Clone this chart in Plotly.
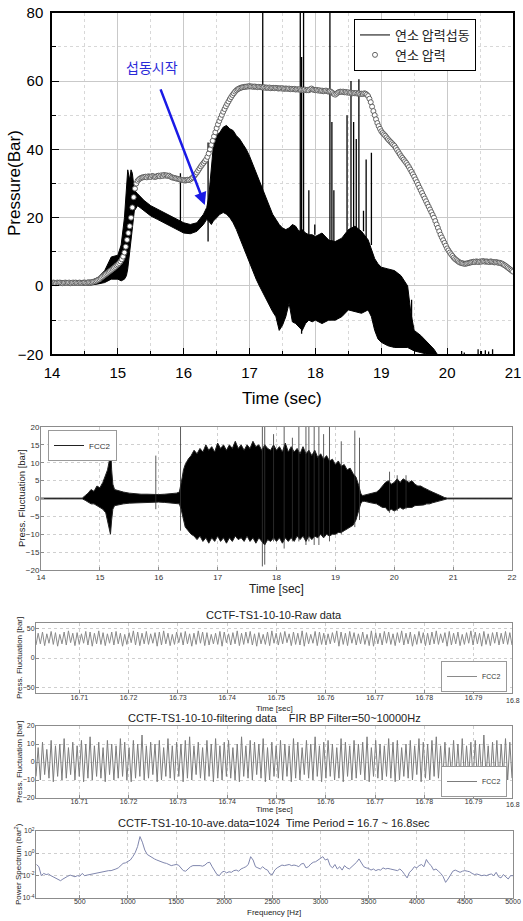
import plotly.graph_objects as go

W, H = 523, 921

def fx(p):
    return p / W

def fy(p):
    return 1 - p / H

# ---------------- Panel 1: combustion pressure ----------------
p1_env_time = [14.0, 14.3, 14.6, 14.7, 14.8, 14.9, 15.0, 15.05, 15.1, 15.13,
               15.15, 15.18, 15.2, 15.22, 15.25, 15.3, 15.4, 15.5, 15.6, 15.7,
               15.8, 15.9, 16.0, 16.1, 16.2, 16.3, 16.35, 16.38, 16.42, 16.45,
               16.5, 16.55, 16.6, 16.65, 16.7, 16.75, 16.8, 16.85, 16.9, 16.95,
               17.0, 17.05, 17.1, 17.15, 17.2, 17.25, 17.3, 17.35, 17.4, 17.45,
               17.5, 17.55, 17.6, 17.65, 17.7, 17.75, 17.8, 17.85, 17.9, 17.95,
               18.0, 18.1, 18.2, 18.3, 18.4, 18.5, 18.6, 18.7, 18.8, 18.85,
               18.9, 18.95, 19.0, 19.1, 19.2, 19.3, 19.4, 19.45, 19.5, 19.6,
               19.7, 19.8, 19.85]
p1_env_upper = [1.5, 1.4, 1.6, 2.5, 4.5, 8.5, 9.0, 12.0, 20.0, 28.0,
                34.0, 31.0, 34.0, 33.0, 28.0, 27.0, 25.0, 23.5, 22.5, 21.5,
                20.5, 19.5, 18.5, 18.0, 18.5, 21.0, 23.0, 26.0, 36.0, 41.0,
                44.0, 45.0, 46.5, 47.0, 46.0, 45.5, 44.0, 43.0, 41.5, 40.0,
                38.0, 35.5, 33.0, 30.5, 28.0, 25.5, 23.0, 21.0, 19.5, 18.0,
                17.0, 16.5, 17.0, 18.0, 17.5, 16.0, 16.5, 15.5, 15.0, 15.0,
                14.5, 15.5, 13.5, 13.0, 14.0, 16.5, 17.5, 16.0, 13.5, 11.0,
                8.0, 6.5, 5.5, 5.0, 4.5, 3.0, 0.0, -8.0, -13.0, -14.5,
                -16.5, -18.5, -20.0]
p1_env_lower = [0.3, 0.3, 0.3, 0.6, 1.0, 2.0, 2.0, 1.5, 2.0, 3.0,
                5.0, 10.0, 14.0, 18.0, 22.0, 23.5, 22.0, 20.5, 19.5, 18.5,
                17.5, 16.5, 15.5, 15.3, 16.0, 18.0, 19.5, 19.0, 18.0, 19.0,
                20.0, 21.0, 21.5, 21.0, 20.0, 18.5, 16.5, 14.0, 11.5, 9.0,
                6.5, 4.0, 2.0, 0.0, -2.0, -4.0, -6.0, -7.5, -9.0, -13.0,
                -11.5, -9.0, -5.0, -10.5, -11.0, -12.0, -13.0, -11.0, -10.0, -10.5,
                -10.0, -11.0, -10.0, -10.0, -9.0, -7.0, -7.5, -8.0, -7.0, -9.0,
                -13.0, -15.5, -16.5, -17.5, -18.0, -18.0, -18.0, -18.5, -19.0, -19.5,
                -20.0, -20.0, -20.0]
p1_spike_time = [15.95, 16.37, 17.20, 17.77, 17.79, 17.82, 17.90, 17.99, 18.22, 18.25,
                 18.28, 18.48, 18.54, 18.58, 18.62, 18.66, 18.73, 18.77, 18.85, 19.46,
                 20.22, 20.26, 20.47, 20.52, 20.58, 20.63, 20.69]
p1_spike_base = [17, 13, 28, 16, -14, 16, 15, 15, 13.5, 13,
                 13, 16, 17, 17, 17, 16.5, 16, 14, 12, -18,
                 -20, -20, -20, -20, -20, -20, -20]
p1_spike_top = [33, 42, 80, 80, 67, 80, 28, 18, 80, 48,
                28, 50, 60, 48, 43, 60.5, 22, 37, 39, -4,
                -19, -19.5, -18.5, -19, -18.8, -19.2, -18.5]
p1_mean_start = 14.0
p1_mean_step = 0.02
p1_mean_pressure = [
    0.9, 1.0, 0.9, 0.8, 1.0, 0.9, 1.0, 0.9, 0.8, 0.9,
    1.0, 0.9, 0.9, 1.0, 0.8, 0.9, 1.0, 0.9, 1.0, 0.9,
    0.9, 1.0, 0.9, 0.9, 1.0, 1.0, 0.9, 1.0, 1.1, 1.0,
    1.1, 1.2, 1.3, 1.4, 1.6, 1.8, 2.0, 2.3, 2.6, 2.9,
    3.2, 3.5, 3.8, 4.1, 4.4, 4.7, 5.0, 5.3, 5.6, 6.0,
    6.3, 6.7, 7.2, 7.8, 8.6, 9.8, 11.5, 13.5, 15.5, 17.5,
    20.0, 23.0, 26.0, 28.5, 30.0, 30.8, 31.2, 31.5, 31.7, 31.8,
    31.9, 32.0, 31.8, 32.1, 32.0, 31.9, 32.2, 32.1, 31.9, 32.0,
    32.2, 32.3, 32.1, 32.4, 32.2, 32.5, 32.3, 32.4, 32.2, 32.3,
    32.0, 31.8, 31.7, 31.6, 31.5, 31.4, 31.3, 31.2, 31.1, 31.0,
    31.0, 30.9, 31.0, 31.1, 31.0, 31.2, 31.5, 31.8, 32.2, 32.7,
    33.2, 33.8, 34.4, 35.0, 35.5, 36.0, 36.5, 37.0, 37.8, 38.8,
    40.0, 41.3, 42.5, 43.8, 45.0, 46.2, 47.3, 48.3, 49.2, 50.1,
    51.0, 51.8, 52.6, 53.3, 54.0, 54.7, 55.3, 55.9, 56.4, 56.9,
    57.3, 57.6, 57.8, 58.0, 58.1, 58.2, 58.3, 58.3, 58.4, 58.4,
    58.5, 58.4, 58.4, 58.3, 58.4, 58.3, 58.2, 58.3, 58.2, 58.2,
    58.1, 58.2, 58.0, 58.1, 58.0, 58.1, 57.9, 58.0, 58.0, 57.9,
    58.0, 57.9, 57.8, 57.9, 57.8, 57.9, 57.7, 57.8, 57.8, 57.7,
    57.8, 57.6, 57.7, 57.6, 57.7, 57.5, 57.6, 57.5, 57.6, 57.4,
    57.5, 57.4, 57.5, 57.3, 57.4, 57.3, 57.6, 57.8, 57.5, 57.4,
    57.3, 57.4, 57.2, 57.3, 57.1, 57.2, 57.0, 57.1, 57.2, 57.0,
    56.9, 57.0, 56.8, 56.5, 56.2, 56.0, 56.3, 56.6, 56.8, 56.9,
    56.8, 56.9, 56.7, 56.8, 56.6, 56.7, 56.5, 56.6, 56.4, 56.5,
    56.4, 56.5, 56.3, 56.4, 56.2, 56.3, 56.2, 56.4, 56.3, 56.0,
    55.6, 54.8, 53.8, 52.5, 51.2, 50.0, 48.8, 47.7, 46.8, 46.0,
    45.3, 44.8, 44.4, 44.0, 43.5, 43.0, 42.6, 42.2, 41.8, 41.4,
    41.0, 40.4, 39.8, 39.2, 38.6, 38.0, 37.5, 37.0, 36.5, 36.0,
    35.4, 34.8, 34.1, 33.4, 32.7, 32.0, 31.2, 30.4, 29.6, 28.8,
    28.0, 27.2, 26.4, 25.6, 24.8, 24.0, 23.2, 22.4, 21.6, 20.8,
    20.0, 19.0, 18.0, 17.0, 16.0, 15.0, 14.2, 13.4, 12.6, 11.8,
    11.0, 10.4, 9.8, 9.3, 8.8, 8.3, 7.9, 7.6, 7.3, 7.0,
    6.8, 6.7, 6.6, 6.5, 6.5, 6.6, 6.7, 6.8, 6.9, 7.0,
    7.1, 7.0, 7.2, 7.1, 7.0, 7.2, 7.1, 7.3, 7.2, 7.1,
    7.2, 7.1, 7.0, 7.2, 7.1, 7.0, 6.9, 7.0, 6.9, 6.8,
    6.8, 6.6, 6.5, 6.2, 6.0, 5.7, 5.4, 5.1, 4.8, 4.5,
    4.2]
p1_mean_time = [round(p1_mean_start + p1_mean_step * i, 3) for i in range(len(p1_mean_pressure))]

# ---------------- Panel 2: FCC2 fluctuation ----------------
p2_env_time = [14.0, 14.7, 14.75, 14.8, 14.85, 14.9, 14.95, 15.0, 15.05, 15.1,
               15.13, 15.16, 15.18, 15.2, 15.22, 15.25, 15.3, 15.4, 15.5, 15.6,
               15.7, 15.8, 15.9, 16.0, 16.1, 16.2, 16.3, 16.35, 16.38, 16.4,
               16.42, 16.45, 16.5, 16.55, 16.6, 16.65, 16.7, 16.75, 16.8, 16.85,
               16.9, 16.95, 17.0, 17.05, 17.1, 17.15, 17.2, 17.25, 17.3, 17.35,
               17.4, 17.45, 17.5, 17.55, 17.6, 17.65, 17.7, 17.75, 17.8, 17.85,
               17.9, 17.95, 18.0, 18.05, 18.1, 18.15, 18.2, 18.25, 18.3, 18.35,
               18.4, 18.45, 18.5, 18.55, 18.6, 18.65, 18.7, 18.75, 18.8, 18.85,
               18.9, 18.95, 19.0, 19.05, 19.1, 19.15, 19.2, 19.25, 19.3, 19.35,
               19.4, 19.43, 19.46, 19.5, 19.6, 19.7, 19.75, 19.8, 19.85, 19.9,
               19.95, 20.0, 20.05, 20.1, 20.15, 20.2, 20.25, 20.3, 20.35, 20.4,
               20.45, 20.5, 20.55, 20.6, 20.65, 20.7, 20.75, 20.8, 20.85, 20.9, 22.0]
p2_env_upper = [0.1, 0.1, 0.8, 1.5, 2.5, 2.0, 3.5, 3.0, 4.5, 6.5,
                8.0, 10.5, 16.0, 8.0, 4.0, 2.5, 2.2, 1.8, 1.5, 1.3,
                1.2, 1.2, 1.1, 1.1, 1.2, 1.3, 1.5, 1.8, 4.0, 6.0,
                8.0, 9.5, 11.0, 12.0, 13.5, 12.5, 14.0, 13.0, 15.0, 13.5,
                14.5, 13.0, 15.5, 14.0, 15.0, 13.5, 15.0, 14.0, 16.0, 14.0,
                15.0, 13.5, 15.0, 14.0, 16.0, 14.5, 15.0, 13.5, 15.0, 14.0,
                13.5, 15.0, 13.5, 14.5, 13.0, 15.5, 13.0, 14.5, 13.0, 14.0,
                12.5, 14.5, 12.5, 13.5, 12.0, 13.5, 11.5, 12.5, 11.0, 12.0,
                10.5, 11.0, 9.5, 10.5, 9.0, 9.5, 8.0, 8.5, 7.0, 6.0,
                3.5, 1.5, 0.8, 1.0, 1.5, 1.8, 2.5, 3.5, 4.5, 5.0,
                4.0, 4.5, 5.5, 4.5, 5.5, 5.0, 4.5, 5.0, 4.0, 3.5,
                3.5, 3.0, 2.5, 2.2, 1.8, 1.5, 1.1, 0.7, 0.3, 0.1, 0.1]
p2_env_lower = [-0.1, -0.1, -0.5, -1.0, -1.5, -1.5, -2.0, -2.5, -3.0, -4.0,
                -6.0, -8.0, -10.0, -6.0, -3.0, -2.0, -1.8, -1.5, -1.3, -1.2,
                -1.1, -1.0, -1.0, -1.0, -1.1, -1.2, -1.3, -1.5, -3.0, -4.5,
                -6.0, -8.0, -9.0, -10.0, -10.5, -11.5, -10.5, -12.0, -11.0, -12.5,
                -11.0, -12.0, -10.5, -12.0, -11.0, -12.5, -11.0, -12.0, -10.5, -11.5,
                -11.0, -12.0, -10.5, -12.0, -11.0, -12.5, -11.0, -12.0, -13.0, -11.5,
                -12.0, -11.0, -12.0, -11.0, -12.5, -11.0, -12.0, -11.0, -12.0, -10.5,
                -11.5, -10.5, -12.0, -10.5, -11.5, -10.5, -11.0, -10.0, -11.0, -10.0,
                -10.5, -10.0, -10.0, -9.5, -9.5, -9.0, -8.5, -8.0, -7.5, -6.0,
                -3.5, -1.5, -0.8, -0.8, -1.2, -1.5, -2.0, -2.5, -2.5, -3.5,
                -3.0, -3.5, -3.0, -2.5, -3.0, -2.5, -2.5, -2.5, -2.0, -2.0,
                -2.0, -1.8, -1.5, -1.5, -1.2, -1.0, -0.8, -0.5, -0.2, -0.1, -0.1]
p2_spike_time = [15.95, 16.37, 17.76, 17.80, 17.95, 18.13, 18.27, 18.38, 18.50, 18.55,
                 18.64, 18.72, 18.80, 18.90, 19.10, 19.33, 19.41, 19.92, 20.05, 20.20]
p2_spike_top = [12, 20, 20, 20, 18, 20, 17, 20, 20, 20,
                20, 20, 18, 20, 16, 19, 17, 7.5, 6.5, 6.5]
p2_spike_bottom = [-3, -9, -19, -18.5, -12, -14, -12, -12, -13, -12,
                   -13, -13, -11, -12, -10, -8, -6, -4, -3.5, -3]

# ---------------- Panel 3: raw data (16.7 - 16.8 s) ----------------
win_start, win_end = 16.7012, 16.7978
raw_peaks = [42, 44, 41, 45, 43, 40, 44, 46, 42, 43, 41, 45, 44, 42, 46, 43, 41, 44, 45, 42,
             40, 43, 46, 44, 42, 45, 41, 43, 44, 46, 42, 40, 44, 43, 45, 41, 42, 46, 44, 43,
             40, 42, 45, 44, 41, 43, 46, 42, 44, 45, 41, 43, 40, 44, 46, 42, 43, 45, 41, 44,
             42, 46, 43, 40, 45, 44, 42, 41, 43, 46, 44, 42, 45, 43, 41, 44, 40, 46, 43, 42,
             45, 44, 41, 43, 46, 42, 44, 40, 45, 43, 42, 44, 46, 41, 43, 45, 42, 44, 40, 43,
             46, 44, 42, 45, 41, 43, 44, 42, 45, 43]
raw_troughs = [22, 24, 21, 25, 23, 20, 24, 22, 26, 21, 23, 25, 22, 20, 24, 23, 21, 25, 22, 24,
               20, 23, 26, 22, 21, 24, 23, 25, 20, 22, 24, 21, 23, 26, 22, 24, 20, 23, 25, 21,
               22, 24, 23, 20, 26, 22, 24, 21, 23, 25, 22, 20, 24, 23, 21, 25, 22, 24, 26, 21,
               23, 22, 20, 24, 25, 21, 23, 22, 24, 26, 20, 23, 21, 25, 22, 24, 23, 21, 20, 24,
               22, 25, 23, 21, 26, 22, 24, 20, 23, 25, 21, 22, 24, 23, 26, 20, 22, 24, 21, 23,
               25, 22, 24, 20, 23, 21, 25, 22, 24, 23, 22]

# ---------------- Panel 4: filtered data ----------------
filt_peaks = [8, 11, 7, 12, 9, 10, 13, 8, 11, 9, 12, 10, 14, 9, 11, 8, 12, 10, 9, 13,
              11, 8, 12, 10, 15, 9, 11, 10, 12, 8, 13, 9, 11, 10, 12, 14, 9, 11, 8, 12,
              10, 13, 9, 11, 12, 8, 10, 14, 9, 12, 11, 10, 13, 8, 11, 9, 12, 10, 9, 13,
              11, 8, 12, 10, 14, 9, 11, 12, 10, 8, 13, 11, 9, 12, 10, 11, 14, 8, 12, 10,
              9, 13, 11, 12, 8, 10, 12, 9, 13, 11, 10, 12, 14, 9, 11, 8, 12, 10, 13, 9,
              11, 12, 10, 15, 9, 11, 12, 10, 13, 11]
filt_troughs = [-8, -10, -7, -9, -11, -8, -10, -9, -7, -10, -8, -11, -9, -10, -8, -9, -11, -7, -10, -9,
                -8, -10, -11, -9, -8, -10, -9, -7, -11, -10, -8, -9, -10, -8, -11, -9, -10, -7, -9, -10,
                -8, -11, -9, -10, -8, -9, -10, -11, -8, -9, -10, -7, -9, -11, -10, -8, -9, -10, -8, -11,
                -9, -10, -7, -9, -10, -8, -11, -9, -8, -10, -9, -11, -8, -10, -9, -7, -10, -11, -8, -9,
                -10, -8, -9, -11, -10, -8, -9, -10, -7, -11, -9, -10, -8, -9, -10, -11, -8, -9, -10, -9,
                -8, -11, -10, -9, -8, -10, -9, -11, -8, -10, -9]

# ---------------- Panel 5: power spectrum ----------------
freq_start, freq_step = 50, 25
psd_log10 = [
    -1.0, -1.2, -2.0, -1.8, -1.9, -1.85, -2.0, -2.1,
    -2.2, -2.35, -2.45, -2.3, -2.15, -2.05, -1.95, -2.05,
    -2.1, -2.0, -2.05, -1.8, -2.0, -1.95, -1.9, -1.85,
    -1.85, -1.8, -1.75, -1.7, -1.65, -1.6, -1.55, -1.55,
    -1.5, -1.4, -1.3, -1.1, -0.9, -0.85, -0.75, -0.6,
    -0.3, 0.05, 0.6, 1.5, 1.0, 0.3, -0.1, -0.25,
    -0.4, -0.5, -0.6, -0.7, -0.8, -0.85, -0.9, -1.0,
    -1.1, -1.05, -1.0, -1.05, -1.3, -1.55, -1.6, -1.35,
    -1.2, -1.1, -1.1, -1.05, -1.1, -1.15, -1.05, -0.85,
    -0.8, -1.2, -1.6, -1.9, -2.0, -1.7, -1.6, -1.75,
    -1.65, -1.7, -1.55, -1.5, -1.6, -1.4, -1.3, -1.2,
    -1.0, -0.3, -0.6, -1.2, -1.3, -1.4, -1.2, -1.4,
    -1.5, -1.85, -1.9, -1.5, -1.3, -1.2, -1.05, -1.1,
    -1.05, -1.0, -1.1, -1.05, -1.1, -1.2, -0.95, -0.9,
    -1.3, -1.2, -0.95, -0.8, -0.75, -0.6, -0.45, -0.3,
    -0.6, -0.5, -1.1, -1.3, -1.0, -1.4, -1.2, -1.5,
    -1.1, -1.3, -1.4, -1.2, -1.05, -0.8, -0.5, -0.9,
    -1.2, -1.3, -1.35, -1.5, -1.4, -1.55, -1.45, -1.5,
    -1.3, -1.4, -1.35, -1.4, -1.45, -1.5, -1.55, -1.4,
    -1.6, -1.9, -2.2, -1.7, -1.5, -1.2, -1.3, -1.1,
    -1.0, -1.2, -0.55, -0.9, -1.1, -1.5, -1.4, -1.6,
    -1.8, -2.1, -2.6, -2.3, -1.9, -1.6, -1.5, -1.6,
    -1.7, -1.6, -1.55, -1.6, -1.65, -1.8, -1.9, -1.85,
    -1.95, -2.0, -1.95, -2.0, -1.9, -1.85, -2.0, -1.7,
    -2.1, -2.2, -1.9, -2.1, -2.3, -2.0, -2.0]
freq_hz = [freq_start + freq_step * i for i in range(len(psd_log10))]
psd_values = [10 ** v for v in psd_log10]

# ---------------- helpers ----------------
def segments(times, lows, highs):
    xs, ys = [], []
    for t, a, b in zip(times, lows, highs):
        xs += [t, t, None]
        ys += [a, b, None]
    return xs, ys

def alternate(troughs, peaks):
    out = []
    for i, v in enumerate(troughs):
        out.append(v)
        if i < len(peaks):
            out.append(peaks[i])
    return out

def window_times(n):
    return [win_start + (win_end - win_start) * k / (n - 1) for k in range(n)]

SANS = "Liberation Sans, Arial, sans-serif"
KR = "Noto Sans CJK KR, sans-serif"

fig = go.Figure()

# Panel 1 traces
fig.add_trace(go.Scatter(x=p1_env_time, y=p1_env_upper, mode="lines",
                         line=dict(color="black", width=1), name="연소 압력섭동",
                         legend="legend", xaxis="x", yaxis="y"))
fig.add_trace(go.Scatter(x=p1_env_time, y=p1_env_lower, mode="lines", fill="tonexty",
                         fillcolor="black", line=dict(color="black", width=1),
                         showlegend=False, xaxis="x", yaxis="y"))
sx, sy = segments(p1_spike_time, p1_spike_base, p1_spike_top)
fig.add_trace(go.Scatter(x=sx, y=sy, mode="lines", line=dict(color="black", width=1.3),
                         showlegend=False, xaxis="x", yaxis="y"))
fig.add_trace(go.Scatter(x=p1_mean_time, y=p1_mean_pressure, mode="markers",
                         marker=dict(symbol="circle", size=5, color="white",
                                     line=dict(color="#555555", width=0.9)),
                         name="연소 압력", legend="legend", xaxis="x", yaxis="y"))

# Panel 2 traces
fig.add_trace(go.Scatter(x=p2_env_time, y=p2_env_upper, mode="lines",
                         line=dict(color="#222222", width=1), name="FCC2",
                         legend="legend2", xaxis="x2", yaxis="y2"))
fig.add_trace(go.Scatter(x=p2_env_time, y=p2_env_lower, mode="lines", fill="tonexty",
                         fillcolor="black", line=dict(color="#222222", width=1),
                         showlegend=False, xaxis="x2", yaxis="y2"))
sx2, sy2 = segments(p2_spike_time, p2_spike_bottom, p2_spike_top)
fig.add_trace(go.Scatter(x=sx2, y=sy2, mode="lines", line=dict(color="#333333", width=0.8),
                         showlegend=False, xaxis="x2", yaxis="y2"))

# Panel 3
raw_series = alternate(raw_troughs, raw_peaks)
fig.add_trace(go.Scatter(x=window_times(len(raw_series)), y=raw_series, mode="lines",
                         line=dict(color="#8a8a8a", width=1), name="FCC2",
                         legend="legend3", xaxis="x3", yaxis="y3"))

# Panel 4
filt_series = alternate(filt_troughs, filt_peaks)
fig.add_trace(go.Scatter(x=window_times(len(filt_series)), y=filt_series, mode="lines",
                         line=dict(color="#7c7c7c", width=1), name="FCC2",
                         legend="legend4", xaxis="x4", yaxis="y4"))

# Panel 5
fig.add_trace(go.Scatter(x=freq_hz, y=psd_values, mode="lines",
                         line=dict(color="#7f86ad", width=1), showlegend=False,
                         xaxis="x5", yaxis="y5"))

# ---------------- axes ----------------
top_common = dict(showline=True, linecolor="black", linewidth=1.5, mirror=True,
                  ticks="inside", ticklen=7, tickwidth=1.3, tickcolor="black",
                  showgrid=True, gridcolor="#c9c9c9", gridwidth=1, zeroline=False,
                  tickfont=dict(size=15, family=SANS, color="black"), automargin=False,
                  ticklabelstandoff=4)

def mat_axis(size=8, **kw):
    d = dict(showline=True, linecolor="#8c8c8c", linewidth=1, mirror=True,
             ticks="inside", ticklen=3, tickcolor="#8c8c8c", showgrid=True,
             gridcolor="#cfcfcf", griddash="dot", zeroline=False,
             tickfont=dict(size=size, family=SANS, color="#333333"), automargin=False)
    d.update(kw)
    return d

win_ticks = [16.71, 16.72, 16.73, 16.74, 16.75, 16.76, 16.77, 16.78, 16.79]

fig.update_layout(
    width=W, height=H, margin=dict(l=0, r=0, t=0, b=0), autosize=False,
    paper_bgcolor="white", plot_bgcolor="white",
    xaxis=dict(domain=[fx(52), fx(513)], range=[14, 21], dtick=1, anchor="y",
               minor=dict(dtick=0.5, showgrid=True, griddash="dot", gridcolor="#d8d8d8",
                          ticks="inside", ticklen=4, tickcolor="black"),
               **top_common),
    yaxis=dict(domain=[fy(354.3), fy(12.7)], range=[-20, 80], dtick=20, anchor="x",
               minor=dict(dtick=10, showgrid=True, griddash="dot", gridcolor="#d8d8d8",
                          ticks="inside", ticklen=4, tickcolor="black"),
               **top_common),
    xaxis2=mat_axis(size=8, domain=[fx(41), fx(512)], range=[14, 22], dtick=1, anchor="y2",
                    ticklabelstandoff=-1),
    yaxis2=mat_axis(size=8, domain=[fy(570), fy(427)], range=[-20, 20], dtick=5, anchor="x2",
                    ticklabelstandoff=-1),
    xaxis3=mat_axis(size=7, domain=[fx(36), fx(512)], range=[win_start, win_end],
                    tickvals=win_ticks, ticktext=[f"{v:.2f}" for v in win_ticks], anchor="y3",
                    ticklabelstandoff=-3),
    yaxis3=mat_axis(size=7, domain=[fy(693.4), fy(622.6)], range=[-60, 60],
                    tickvals=[-50, 0, 50], anchor="x3", ticklabelstandoff=-1),
    xaxis4=mat_axis(size=7, domain=[fx(36), fx(512)], range=[win_start, win_end],
                    tickvals=win_ticks, ticktext=[f"{v:.2f}" for v in win_ticks], anchor="y4",
                    ticklabelstandoff=-3),
    yaxis4=mat_axis(size=7, domain=[fy(798), fy(726)], range=[-20, 20], dtick=10, anchor="x4",
                    ticklabelstandoff=-1),
    xaxis5=mat_axis(size=7, domain=[fx(36), fx(513)], range=[45, 5000],
                    tickvals=[500, 1000, 1500, 2000, 2500, 3000, 3500, 4000, 4500, 5000],
                    anchor="y5", ticklabelstandoff=-3),
    yaxis5=mat_axis(size=7, domain=[fy(898), fy(831)], type="log", range=[-4, 2],
                    tickvals=[1e-4, 1e-2, 1, 1e2],
                    ticktext=["10<sup>-4</sup>", "10<sup>-2</sup>", "10<sup>0</sup>", "10<sup>2</sup>"],
                    anchor="x5", ticklabelstandoff=-1),
    legend=dict(x=fx(354), y=fy(19), xanchor="left", yanchor="top", bgcolor="white",
                bordercolor="black", borderwidth=1, tracegroupgap=0, itemwidth=30,
                traceorder="normal",
                font=dict(size=13, family=KR, color="#222222")),
    legend2=dict(x=fx(48), y=fy(430), xanchor="left", yanchor="top", bgcolor="white",
                 bordercolor="#999999", borderwidth=1, itemwidth=30,
                 font=dict(size=8, family=SANS, color="#333333")),
    legend3=dict(x=fx(507), y=fy(692), xanchor="right", yanchor="bottom", bgcolor="white",
                 bordercolor="#999999", borderwidth=1, itemwidth=30,
                 font=dict(size=7, family=SANS, color="#333333")),
    legend4=dict(x=fx(507), y=fy(797), xanchor="right", yanchor="bottom", bgcolor="white",
                 bordercolor="#999999", borderwidth=1, itemwidth=30,
                 font=dict(size=7, family=SANS, color="#333333")),
)

ann = []
def text(x, y, s, size, color="#222222", angle=0, family=SANS, **kw):
    d = dict(x=x, y=y, xref="paper", yref="paper", text=s, showarrow=False,
             textangle=angle, font=dict(size=size, color=color, family=family),
             xanchor="center", yanchor="middle")
    d.update(kw)
    ann.append(d)

# panel 1 labels
text(fx(282), fy(398), "Time (sec)", 17, color="black")
text(fx(15), fy(183), "Pressure(Bar)", 17, color="black", angle=-90)
ann.append(dict(x=16.32, y=23.7, ax=15.64, ay=58, xref="x", yref="y", axref="x", ayref="y",
                text="", showarrow=True, arrowhead=2, arrowsize=1, arrowwidth=2.5,
                arrowcolor="#1a1ae6"))
ann.append(dict(x=15.52, y=64.2, xref="x", yref="y", text="섭동시작", showarrow=False,
                font=dict(size=14, family=KR, color="#2a2ad8")))
# panel 2 labels
text(fx(276), fy(589), "Time [sec]", 12)
text(fx(21), fy(498), "Press. Fluctuation [bar]", 9.5, angle=-90)
# panel 3
text(fx(274), fy(615), "CCTF-TS1-10-10-Raw data", 11)
text(fx(274), fy(708), "Time [sec]", 8)
text(fx(19), fy(658), "Press. Fluctuation [bar]", 8, angle=-90)
text(fx(513), fy(700), "16.8", 7, color="#333333")
# panel 4
text(fx(274), fy(718), "CCTF-TS1-10-10-filtering data    FIR BP Filter=50~10000Hz", 11)
text(fx(274), fy(809), "Time [sec]", 8)
text(fx(19), fy(762), "Press. Fluctuation [bar]", 8, angle=-90)
text(fx(513), fy(804), "16.8", 7, color="#333333")
# panel 5
text(fx(274), fy(823), "CCTF-TS1-10-10-ave.data=1024  Time Period = 16.7 ~ 16.8sec", 11)
text(fx(274), fy(912), "Frequency [Hz]", 8)
text(fx(18), fy(864), "Power Spectrum (bar<sup>2</sup>)", 8, angle=-90)

fig.update_layout(annotations=ann)

fig.write_html("out.html", config={"displayModeBar": False},
               post_script="document.body.style.margin='0px';")
